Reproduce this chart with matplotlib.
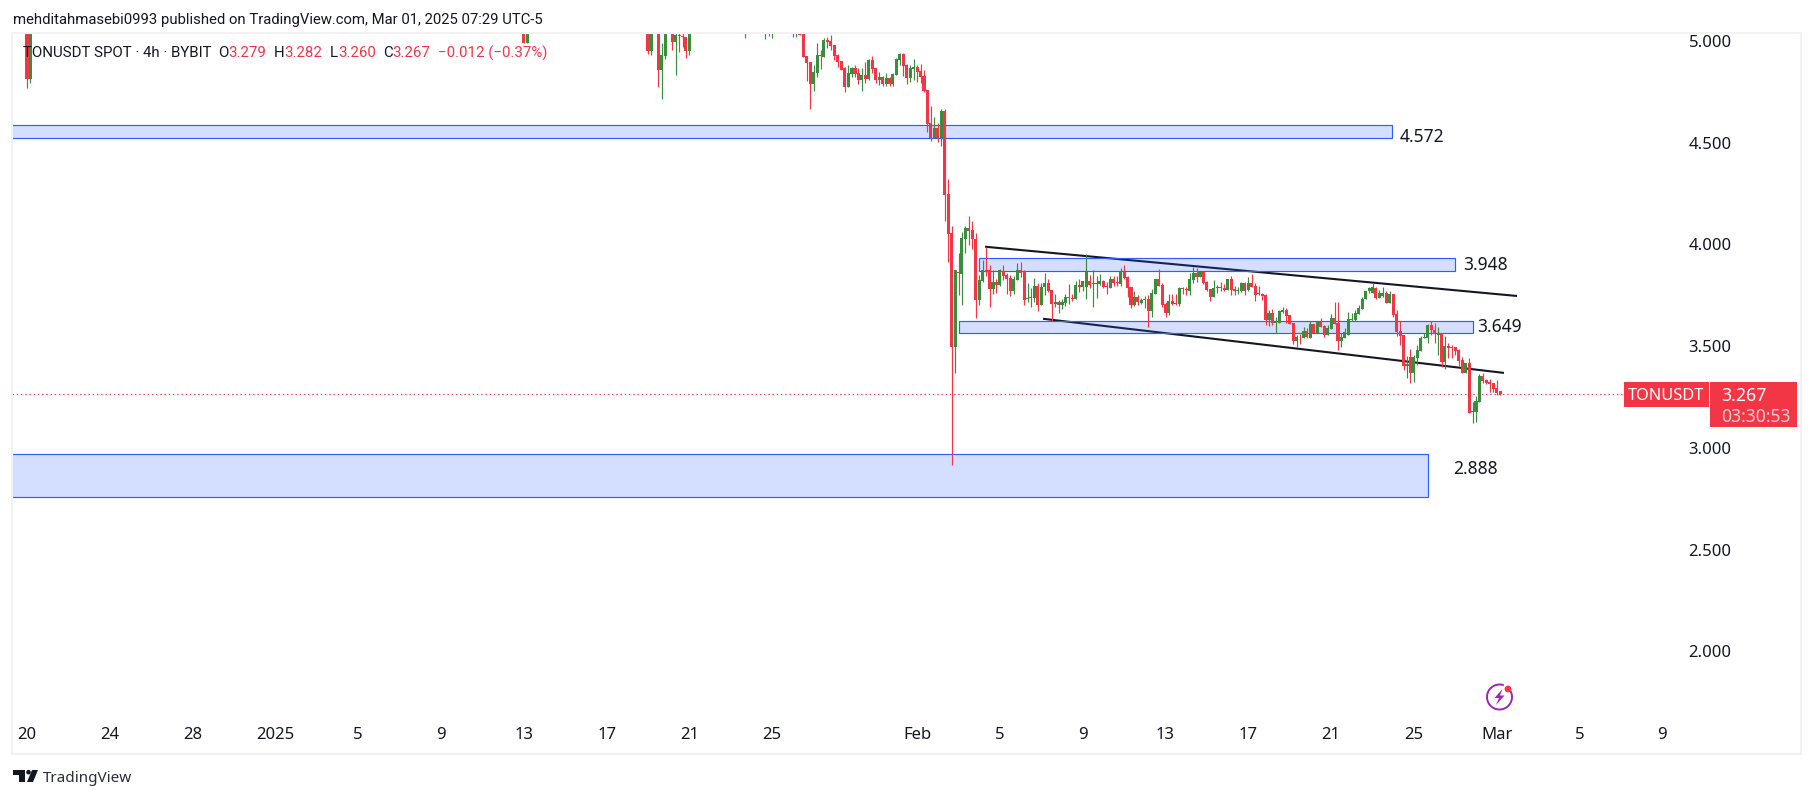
import matplotlib
matplotlib.use("Agg")
import matplotlib.pyplot as plt
from matplotlib.patches import Circle, Polygon, Rectangle, Arc

RED = "#f23645"
GREEN = "#388e3c"
BLUE = "#2962ff"
INK = "#131722"
FRAME = "#f2f2f2"

# candle number = 4h candles since Dec 20 2024
candle_no = [0, 1, 144, 145, 180, 181, 183, 184, 185, 187, 188, 189, 190, 191, 192,
             208, 214, 215, 216, 222, 223, 224] + list(range(225, 428))

opens = [
    5.2, 4.813, 5.2, 4.990, 5.2, 4.951, 5.2, 4.858, 4.926, 5.2, 4.995, 5.03, 5.025, 5.020, 4.951,
    5.1, 5.06, 5.05, 5.045, 5.1, 5.06, 5.038,
    5.06, 4.926, 4.897, 4.789, 4.844, 4.931, 4.923, 5.005, 5.000, 4.980,
    4.931, 4.902, 4.866, 4.776, 4.838, 4.866, 4.841, 4.808, 4.833, 4.813,
    4.907, 4.867, 4.808, 4.823, 4.789, 4.817, 4.789, 4.833, 4.907, 4.936,
    4.882, 4.818, 4.862, 4.872, 4.853, 4.828, 4.759, 4.597, 4.523, 4.572,
    4.523, 4.656, 4.248, 4.056, 3.496, 3.867, 3.855, 4.027, 4.081, 4.071,
    4.027, 3.727, 3.821, 3.875, 3.875, 3.781, 3.816, 3.801, 3.870, 3.850,
    3.835, 3.771, 3.826, 3.875, 3.865, 3.732, 3.737, 3.737, 3.796, 3.703,
    3.791, 3.811, 3.776, 3.708, 3.717, 3.703, 3.712, 3.742, 3.737, 3.732,
    3.801, 3.791, 3.791, 3.821, 3.806, 3.806, 3.806, 3.821, 3.796, 3.786,
    3.830, 3.816, 3.806, 3.865, 3.840, 3.791, 3.703, 3.742, 3.712, 3.727,
    3.732, 3.673, 3.757, 3.830, 3.801, 3.708, 3.663, 3.722, 3.712, 3.708,
    3.786, 3.781, 3.771, 3.826, 3.860, 3.840, 3.865, 3.816, 3.781, 3.742,
    3.786, 3.791, 3.786, 3.776, 3.830, 3.781, 3.771, 3.771, 3.811, 3.776,
    3.811, 3.796, 3.757, 3.757, 3.752, 3.629, 3.663, 3.614, 3.614, 3.668,
    3.678, 3.654, 3.614, 3.526, 3.545, 3.541, 3.575, 3.541, 3.609, 3.565,
    3.619, 3.599, 3.555, 3.585, 3.639, 3.614, 3.526, 3.541, 3.555, 3.629,
    3.629, 3.658, 3.681, 3.731, 3.771, 3.760, 3.785, 3.739, 3.747, 3.760,
    3.714, 3.757, 3.659, 3.575, 3.555, 3.403, 3.449, 3.370, 3.444, 3.478,
    3.539, 3.542, 3.604, 3.580, 3.555, 3.563, 3.424, 3.501, 3.498, 3.495,
    3.482, 3.433, 3.370, 3.419, 3.177, 3.177, 3.226, 3.355, 3.334, 3.323,
    3.318, 3.293, 3.279,
]
closes = [
    4.813, 5.2, 4.990, 5.2, 4.951, 5.2, 4.859, 4.931, 5.2, 4.995, 5.029, 5.025, 5.020, 4.951, 5.2,
    5.06, 5.1, 5.042, 5.1, 5.06, 5.1, 5.029,
    4.923, 4.893, 4.789, 4.848, 4.931, 4.928, 5.005, 4.997, 4.975, 4.926,
    4.898, 4.858, 4.776, 4.841, 4.869, 4.838, 4.808, 4.833, 4.813, 4.907,
    4.862, 4.808, 4.823, 4.789, 4.817, 4.789, 4.838, 4.912, 4.936, 4.877,
    4.818, 4.866, 4.872, 4.848, 4.825, 4.754, 4.592, 4.522, 4.572, 4.523,
    4.656, 4.243, 4.052, 3.496, 3.875, 3.860, 4.032, 4.081, 4.066, 4.027,
    3.727, 3.826, 3.875, 3.865, 3.781, 3.816, 3.801, 3.875, 3.845, 3.830,
    3.771, 3.830, 3.875, 3.860, 3.727, 3.737, 3.742, 3.796, 3.703, 3.791,
    3.811, 3.771, 3.708, 3.717, 3.703, 3.717, 3.742, 3.737, 3.732, 3.801,
    3.791, 3.821, 3.865, 3.801, 3.811, 3.811, 3.821, 3.791, 3.791, 3.830,
    3.811, 3.811, 3.865, 3.835, 3.786, 3.703, 3.742, 3.717, 3.727, 3.732,
    3.673, 3.762, 3.830, 3.796, 3.703, 3.663, 3.722, 3.708, 3.708, 3.786,
    3.781, 3.776, 3.830, 3.860, 3.840, 3.865, 3.811, 3.776, 3.742, 3.786,
    3.791, 3.786, 3.776, 3.830, 3.776, 3.771, 3.776, 3.811, 3.771, 3.811,
    3.791, 3.752, 3.760, 3.747, 3.629, 3.663, 3.614, 3.619, 3.673, 3.678,
    3.649, 3.609, 3.526, 3.545, 3.543, 3.575, 3.545, 3.609, 3.565, 3.619,
    3.595, 3.555, 3.590, 3.639, 3.609, 3.526, 3.545, 3.570, 3.634, 3.634,
    3.663, 3.688, 3.731, 3.773, 3.785, 3.789, 3.736, 3.760, 3.763, 3.714,
    3.757, 3.654, 3.572, 3.550, 3.403, 3.411, 3.370, 3.449, 3.482, 3.542,
    3.547, 3.604, 3.580, 3.559, 3.560, 3.421, 3.501, 3.490, 3.490, 3.477,
    3.429, 3.370, 3.419, 3.174, 3.182, 3.231, 3.355, 3.331, 3.318, 3.315,
    3.288, 3.269, 3.267,
]
highs = [
    5.25, 5.25, 5.2, 5.2, 5.2, 5.2, 5.2, 4.990, 5.2, 5.2, 5.06, 5.06, 5.06, 5.02, 5.2,
    5.2, 5.2, 5.1, 5.1, 5.2, 5.2, 5.1,
    5.08, 4.926, 4.897, 4.882, 4.988, 4.956, 5.015, 5.021, 5.030, 4.980,
    4.936, 4.902, 4.874, 4.882, 4.874, 4.882, 4.866, 4.866, 4.898, 4.910,
    4.928, 4.867, 4.849, 4.828, 4.844, 4.821, 4.841, 4.918, 4.943, 4.943,
    4.887, 4.882, 4.912, 4.882, 4.887, 4.858, 4.759, 4.681, 4.627, 4.595,
    4.666, 4.666, 4.322, 4.091, 3.875, 3.958, 4.061, 4.091, 4.140, 4.115,
    4.056, 3.850, 3.924, 3.988, 3.899, 3.875, 3.830, 3.880, 3.899, 3.860,
    3.850, 3.845, 3.909, 3.914, 3.875, 3.811, 3.786, 3.835, 3.811, 3.811,
    3.860, 3.830, 3.776, 3.757, 3.727, 3.732, 3.757, 3.806, 3.757, 3.821,
    3.830, 3.821, 3.953, 3.850, 3.875, 3.845, 3.855, 3.826, 3.816, 3.845,
    3.845, 3.845, 3.885, 3.899, 3.845, 3.791, 3.771, 3.752, 3.737, 3.747,
    3.752, 3.781, 3.830, 3.880, 3.811, 3.717, 3.757, 3.757, 3.757, 3.791,
    3.791, 3.791, 3.860, 3.889, 3.885, 3.865, 3.870, 3.821, 3.781, 3.826,
    3.801, 3.816, 3.806, 3.830, 3.845, 3.796, 3.791, 3.816, 3.816, 3.840,
    3.855, 3.811, 3.796, 3.762, 3.757, 3.678, 3.683, 3.644, 3.678, 3.693,
    3.688, 3.654, 3.614, 3.555, 3.560, 3.595, 3.590, 3.624, 3.609, 3.619,
    3.639, 3.604, 3.604, 3.658, 3.717, 3.717, 3.565, 3.590, 3.668, 3.663,
    3.678, 3.703, 3.744, 3.773, 3.793, 3.809, 3.790, 3.776, 3.790, 3.772,
    3.772, 3.757, 3.678, 3.626, 3.555, 3.454, 3.485, 3.457, 3.506, 3.550,
    3.563, 3.608, 3.622, 3.616, 3.596, 3.563, 3.550, 3.514, 3.506, 3.498,
    3.485, 3.446, 3.419, 3.444, 3.228, 3.256, 3.364, 3.367, 3.337, 3.337,
    3.321, 3.334, 3.282,
]
lows = [
    4.769, 4.794, 4.990, 4.990, 4.936, 4.933, 4.774, 4.716, 4.913, 4.957, 4.834, 4.946, 4.971, 4.916, 4.933,
    5.015, 5.010, 5.025, 5.015, 5.020, 5.020, 5.029,
    4.923, 4.805, 4.667, 4.756, 4.825, 4.864, 4.923, 4.964, 4.956, 4.907,
    4.874, 4.858, 4.751, 4.776, 4.825, 4.821, 4.789, 4.756, 4.792, 4.808,
    4.841, 4.792, 4.784, 4.780, 4.780, 4.780, 4.780, 4.833, 4.882, 4.828,
    4.789, 4.800, 4.808, 4.800, 4.792, 4.751, 4.554, 4.510, 4.523, 4.505,
    4.484, 4.117, 3.914, 2.916, 3.370, 3.752, 3.703, 3.958, 3.998, 3.978,
    3.639, 3.703, 3.816, 3.845, 3.693, 3.757, 3.762, 3.796, 3.826, 3.757,
    3.747, 3.757, 3.826, 3.840, 3.703, 3.717, 3.693, 3.717, 3.673, 3.703,
    3.752, 3.766, 3.624, 3.693, 3.663, 3.683, 3.698, 3.708, 3.722, 3.732,
    3.766, 3.771, 3.732, 3.786, 3.693, 3.737, 3.801, 3.786, 3.757, 3.786,
    3.796, 3.796, 3.796, 3.830, 3.742, 3.688, 3.698, 3.703, 3.708, 3.688,
    3.595, 3.644, 3.757, 3.796, 3.693, 3.644, 3.654, 3.703, 3.703, 3.698,
    3.757, 3.752, 3.752, 3.811, 3.816, 3.840, 3.806, 3.771, 3.722, 3.742,
    3.762, 3.771, 3.771, 3.776, 3.752, 3.752, 3.757, 3.769, 3.752, 3.771,
    3.791, 3.722, 3.752, 3.727, 3.604, 3.599, 3.604, 3.565, 3.614, 3.663,
    3.614, 3.609, 3.511, 3.496, 3.511, 3.541, 3.541, 3.541, 3.565, 3.565,
    3.595, 3.545, 3.555, 3.585, 3.609, 3.482, 3.496, 3.541, 3.555, 3.624,
    3.624, 3.658, 3.681, 3.731, 3.760, 3.760, 3.732, 3.739, 3.744, 3.714,
    3.714, 3.642, 3.550, 3.506, 3.383, 3.342, 3.321, 3.326, 3.408, 3.478,
    3.539, 3.514, 3.555, 3.514, 3.457, 3.396, 3.388, 3.441, 3.441, 3.457,
    3.403, 3.367, 3.367, 3.174, 3.121, 3.129, 3.226, 3.318, 3.315, 3.277,
    3.277, 3.260, 3.260,
]

# support / resistance boxes drawn by the author
zone_start = [-10, 276, 270, -10]
zone_end = [395.7, 413.9, 419, 406]
zone_top = [4.587, 3.934, 3.624, 2.970]
zone_bottom = [4.523, 3.870, 3.565, 2.759]
zone_labels = ["4.572", "3.948", "3.649", "2.888"]
zone_label_x = [397.8, 416.4, 420.3, 413.5]
zone_label_y = [4.530, 3.897, 3.594, 2.897]

# channel trendlines
upper_x = [277.7, 431.9]
upper_y = [3.989, 3.747]
lower_x = [294.5, 428.1]
lower_y = [3.635, 3.369]

last_price = 3.267

price_ticks = [5.0, 4.5, 4.0, 3.5, 3.0, 2.5, 2.0]
date_ticks = [0, 24, 48, 72, 96, 120, 144, 168, 192, 216, 258, 282, 306, 330, 354, 378, 402, 426, 450, 474]
date_labels = ["20", "24", "28", "2025", "5", "9", "13", "17", "21", "25",
               "Feb", "5", "9", "13", "17", "21", "25", "Mar", "5", "9"]


def px_box(x0, y0, x1, y1):
    """
    use: pixel box (top left origin) to figure fraction for add_axes
    """
    return [x0 / 1814, 1 - y1 / 798, (x1 - x0) / 1814, (y1 - y0) / 798]


def draw_candles(ax):
    for no, o, h, l, c in zip(candle_no, opens, highs, lows, closes):
        color = GREEN if c >= o else RED
        ax.vlines(no, l, h, color=color, lw=0.85, zorder=3)
        ax.bar(no, abs(c - o), bottom=min(o, c), width=0.88, color=color, lw=0, zorder=3)


def draw_drawings(ax):
    ax.plot(upper_x, upper_y, color=INK, lw=1.5, zorder=1, solid_capstyle="butt")
    ax.plot(lower_x, lower_y, color=INK, lw=1.5, zorder=1, solid_capstyle="butt")
    for i in range(len(zone_labels)):
        x = zone_start[i]
        w = zone_end[i] - x
        y = zone_bottom[i]
        h = zone_top[i] - y
        ax.add_patch(Rectangle((x, y), w, h, facecolor=(41 / 255, 98 / 255, 1, 0.2), edgecolor="none", zorder=2))
        ax.add_patch(Rectangle((x, y), w, h, facecolor="none", edgecolor=BLUE, lw=0.85, zorder=2))
        ax.text(zone_label_x[i], zone_label_y[i], zone_labels[i], color=INK, fontsize=12.5, va="center", ha="left",
                fontweight="medium")
    ax.axhline(last_price, xmax=0.905, color=RED, lw=0.8, ls=(0, (1.3, 2.5)), zorder=2)


def draw_overlay(fig):
    over = fig.add_axes([0, 0, 1, 1], zorder=5)
    over.set_xlim(0, 1814)
    over.set_ylim(798, 0)
    over.axis("off")

    over.text(13, 20, "mehditahmasebi0993 published on TradingView.com, Mar 01, 2025 07:29 UTC-5",
              color=INK, fontsize=10.75, va="center", family="Roboto")
    legend = [
        (23, "TONUSDT SPOT · 4h · BYBIT", INK), (218, "O", INK), (228, "3.279", RED),
        (274, "H", INK), (284, "3.282", RED), (330, "L", INK), (338, "3.260", RED),
        (383, "C", INK), (392, "3.267", RED), (438, "−0.012 (−0.37%)", RED),
    ]
    for x, txt, color in legend:
        over.text(x, 53, txt, color=color, fontsize=10.8, va="center", family="Roboto")

    # last price tags
    over.add_patch(Rectangle((1624, 382), 85, 25, color=RED, lw=0))
    over.add_patch(Rectangle((1710, 382), 87, 45, color=RED, lw=0))
    over.text(1666.5, 395.5, "TONUSDT", color="white", fontsize=11.8, ha="center", va="center", fontweight="medium")
    over.text(1721, 396, "3.267", color="white", fontsize=12.8, va="center", fontweight="medium")
    over.text(1721, 417, "03:30:53", color="#fbc8cc", fontsize=12.6, va="center")

    # TradingView logo
    over.add_patch(Rectangle((13, 770), 12, 4.5, color=INK, lw=0))
    over.add_patch(Rectangle((19, 770), 6, 12, color=INK, lw=0))
    over.add_patch(Circle((28.5, 772.2), 2.3, color=INK, lw=0))
    over.add_patch(Polygon([[32, 770], [38, 770], [33, 782], [27, 782]], color=INK, lw=0))
    over.text(43, 778, "TradingView", color="#2a2e39", fontsize=11, va="center")

    # lightning icon
    purple = "#9c27b0"
    over.add_patch(Arc((1499.5, 697), 25, 25, theta1=-30, theta2=290, color=purple, lw=1.4))
    over.add_patch(Polygon([[1502.5, 689], [1494.5, 698], [1499, 698], [1496, 705],
                            [1504.5, 695.5], [1500, 695.5]], color=purple, lw=0))
    over.add_patch(Circle((1508, 689), 3.4, color=RED, lw=0))


def main():
    plt.rcParams["font.family"] = ["Noto Sans", "DejaVu Sans"]
    fig = plt.figure(figsize=(18.14, 7.98), dpi=100, facecolor="white")
    ax = fig.add_axes(px_box(12, 33, 1801, 754))

    draw_drawings(ax)
    draw_candles(ax)

    ax.set_xlim(-4.35, 514.2)
    ax.set_ylim(1.4963, 5.0393)

    ax.yaxis.tick_right()
    ax.set_yticks(price_ticks)
    ax.set_yticklabels([f"{p:.3f}" for p in price_ticks])
    ax.tick_params(axis="y", length=0, pad=-81, labelsize=12, labelcolor=INK)
    ax.set_xticks(date_ticks)
    ax.set_xticklabels(date_labels)
    ax.tick_params(axis="x", length=0, pad=-19.5, labelsize=12, labelcolor=INK)
    for lab in ax.get_xticklabels():
        if lab.get_text() == "2025":
            lab.set_fontweight("bold")
    for side in ax.spines:
        ax.spines[side].set_color(FRAME)
        ax.spines[side].set_linewidth(1.5)
        ax.spines[side].set_zorder(4)

    draw_overlay(fig)
    fig.savefig("out.png", dpi=100)


if __name__ == "__main__":
    main()
